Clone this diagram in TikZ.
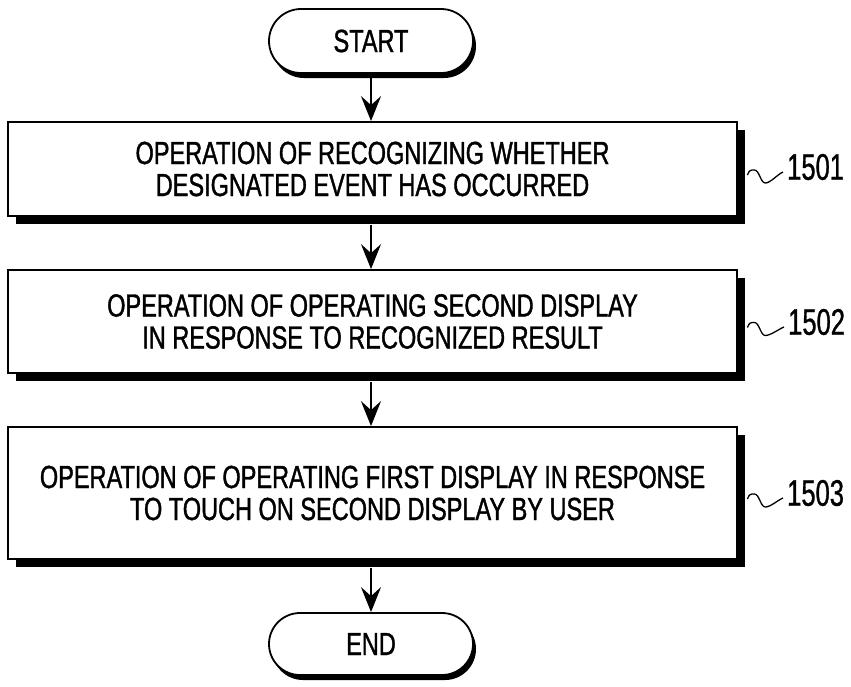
\documentclass[tikz,border=0pt]{standalone}
\usepackage{fontspec}
\setmainfont{Liberation Sans}[FakeStretch=0.735,FakeBold=1.2]
\newfontfamily\labelfont{Liberation Sans}[FakeStretch=0.69,FakeBold=0.8]
\usetikzlibrary{shapes.misc,shadows,arrows.meta,calc}
\begin{document}
\begin{tikzpicture}[x=1pt,y=-1pt,
  opbox/.style={draw,line width=1.8pt,fill=white,minimum width=729pt,inner sep=0pt,
    align=center,font=\fontsize{32}{32}\selectfont,
    drop shadow={shadow xshift=8pt,shadow yshift=-8pt,opacity=1,fill=black}},
  term/.style={rounded rectangle,draw,line width=1.8pt,fill=white,minimum width=204pt,
    minimum height=64pt,inner sep=0pt,font=\fontsize{32}{32}\selectfont,
    drop shadow={shadow xshift=3pt,shadow yshift=-5pt,opacity=1,fill=black}},
  arr/.style={line width=2pt,-{Stealth[length=25pt,width=20pt,inset=9pt]}},
  lbl/.style={anchor=west,inner sep=0pt,font=\labelfont\fontsize{37}{37}\selectfont},
  wave/.style={line width=1.3pt}
]
\useasboundingbox (0,0) rectangle (851,686);
\node[term] (start) at (371,41) {START};
\node[opbox,minimum height=94pt] (b1) at (372.5,169) {OPERATION OF RECOGNIZING WHETHER\\DESIGNATED EVENT HAS OCCURRED};
\node[opbox,minimum height=103pt] (b2) at (372.5,321.5) {OPERATION OF OPERATING SECOND DISPLAY\\IN RESPONSE TO RECOGNIZED RESULT};
\node[opbox,minimum height=132pt] (b3) at (372.5,493) {OPERATION OF OPERATING FIRST DISPLAY IN RESPONSE\\TO TOUCH ON SECOND DISPLAY BY USER};
\node[term,minimum height=62pt] (end) at (371,644) {END};
\node[lbl] (l1) at (787,167) {1501};
\node[lbl] (l2) at (788,322) {1502};
\node[lbl] (l3) at (787,493) {1503};
\draw[arr] (start.south) -- (start.south |- b1.north);
\draw[arr] (b1.south -| start.south) ++(0,8) -- (start.south |- b2.north);
\draw[arr] (b2.south -| start.south) ++(0,8) -- (start.south |- b3.north);
\draw[arr] (b3.south -| start.south) ++(0,8) -- (end.north);
\foreach \b/\l in {b1/l1,b2/l2,b3/l3}{
  \draw[wave] ([xshift=9.5pt,yshift=-6pt]\b.east) .. controls +(2,-5) and +(-4,0) .. +(7,-5)
    .. controls +(5,0) and +(-5,0) .. +(18,8)
    .. controls +(5,0) and +(-5,2) .. ([xshift=-4pt,yshift=-5pt]\l.west);
}
\end{tikzpicture}
\end{document}
